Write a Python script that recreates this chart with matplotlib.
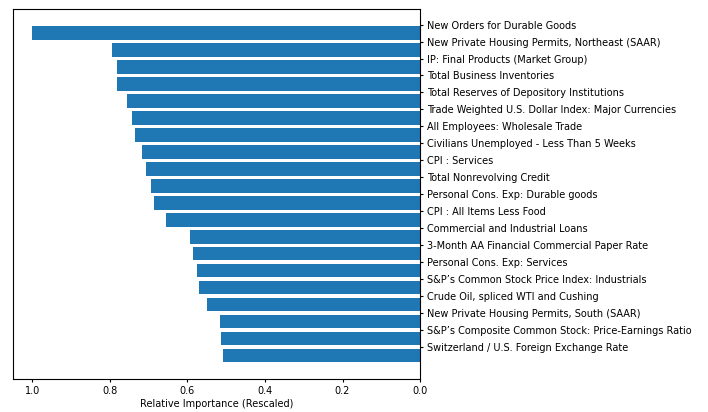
import matplotlib
matplotlib.use("Agg")
import matplotlib.pyplot as plt

features = [
    "New Orders for Durable Goods",
    "New Private Housing Permits, Northeast (SAAR)",
    "IP: Final Products (Market Group)",
    "Total Business Inventories",
    "Total Reserves of Depository Institutions",
    "Trade Weighted U.S. Dollar Index: Major Currencies",
    "All Employees: Wholesale Trade",
    "Civilians Unemployed - Less Than 5 Weeks",
    "CPI : Services",
    "Total Nonrevolving Credit",
    "Personal Cons. Exp: Durable goods",
    "CPI : All Items Less Food",
    "Commercial and Industrial Loans",
    "3-Month AA Financial Commercial Paper Rate",
    "Personal Cons. Exp: Services",
    "S&P’s Common Stock Price Index: Industrials",
    "Crude Oil, spliced WTI and Cushing",
    "New Private Housing Permits, South (SAAR)",
    "S&P’s Composite Common Stock: Price-Earnings Ratio",
    "Switzerland / U.S. Foreign Exchange Rate",
]
importance = [1.0, 0.794, 0.781, 0.781, 0.756, 0.743, 0.735, 0.717, 0.707, 0.694,
              0.686, 0.655, 0.593, 0.585, 0.575, 0.570, 0.549, 0.516, 0.513, 0.508]
x_ticks = [1.0, 0.8, 0.6, 0.4, 0.2, 0.0]

fig = plt.figure(figsize=(7.08, 4.12), dpi=100)
ax = fig.add_axes([0.0184, 0.0794, 0.5749, 0.8980])
n = len(features)
ypos = list(range(n))[::-1]
ax.barh(ypos, importance, height=0.8, color="#1f77b4")
ax.set_yticks([p + 0.5 for p in ypos])
ax.set_yticklabels(features, fontsize=7)
ax.yaxis.tick_right()
ax.set_ylim(-1.4, n + 0.4)
ax.set_xlim(1.05, 0.0)
ax.set_xticks(x_ticks)
ax.set_xticklabels([f"{t:.1f}" for t in x_ticks])
ax.tick_params(axis="both", length=2.4, width=0.8, pad=2.4, labelsize=7)
ax.set_xlabel("Relative Importance (Rescaled)", fontsize=7, labelpad=2.5)
for s in ax.spines.values():
    s.set_linewidth(0.8)
fig.savefig("out.png", dpi=100)
